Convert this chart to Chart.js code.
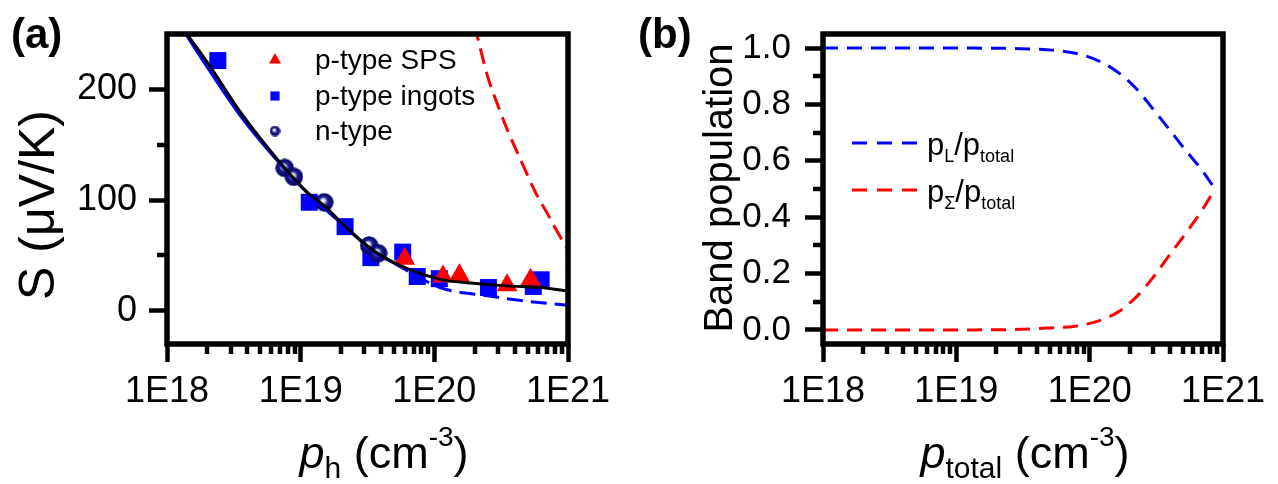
<!DOCTYPE html>
<html>
<head>
<meta charset="utf-8">
<script src="https://cdn.jsdelivr.net/npm/chart.js@4.4.0/dist/chart.umd.min.js"></script>
<style>
  html, body { margin: 0; padding: 0; background: #fff; }
  #wrap { position: relative; width: 1278px; height: 484px; }
  canvas { position: absolute; top: 0; }
  #chartA { left: 0; }
  #chartB { left: 640px; }
</style>
</head>
<body>
<div id="wrap">
  <canvas id="chartA" width="640" height="484"></canvas>
  <canvas id="chartB" width="638" height="484"></canvas>
</div>
<script>
const FONT = '"Liberation Sans", Arial, sans-serif';
const BLUE = '#0000ff';
const RED = '#ff0000';

// (a) Seebeck coefficient vs Hall carrier density
const spsP = [6.0e19, 1.16e20, 1.54e20, 3.5e20, 5.25e20];
const spsS = [47, 31, 32, 23, 28];
const ingotP = [2.4e18, 1.16e19, 2.15e19, 3.35e19, 5.8e19, 7.45e19, 1.09e20, 2.54e20, 5.5e20, 6.3e20];
const ingotS = [226, 98, 76, 48, 53, 31, 29, 21, 22, 28];
const nTypeP = [7.6e18, 8.9e18, 1.5e19, 3.25e19, 3.8e19];
const nTypeS = [129, 121, 98, 59, 52];

// two-band model (solid black)
const twoBandP = [1.35e18, 2.04e18, 3.61e18, 7.59e18, 1.13e19, 1.51e19, 2.15e19, 3.55e19, 6.28e19, 1.11e20, 1.97e20, 3.48e20, 6.16e20, 1e21];
const twoBandS = [253, 223, 178, 129, 106.6, 94.6, 76.3, 54, 38, 28.4, 24.9, 22.5, 21, 18];
// light band only (blue)
const lightP = [1.33e18, 2e18, 3.6e18, 7.6e18, 1.13e19, 2.15e19, 3.55e19, 5e19, 7e19, 1.1e20, 2.5e20, 4.6e20, 1e21];
const lightS = [253, 220, 175, 128, 106, 76, 53, 43, 33, 21, 13.5, 9, 5];
// heavy band only (red dashed)
const heavyP = [2.0e20, 2.5e20, 3e20, 3.5e20, 4e20, 5e20, 5.5e20, 6e20, 7e20, 8e20, 1e21];
const heavyS = [258, 212, 185, 164, 148, 122, 111, 102, 88, 75, 55];

// (b) band population vs total carrier density
const totalP = [1e18, 1e19, 3e19, 4.76e19, 7.8e19, 1.2e20, 1.64e20, 2.25e20, 2.95e20, 3.89e20, 5.25e20, 7.0e20, 8.7e20];
const fracL = [1, 1, 0.998, 0.994, 0.982, 0.952, 0.913, 0.855, 0.787, 0.716, 0.637, 0.565, 0.5];
const fracSigma = [0, 0, 0.002, 0.007, 0.013, 0.034, 0.064, 0.118, 0.183, 0.26, 0.343, 0.426, 0.5];

const xy = (xs, ys) => xs.map((x, i) => ({ x, y: ys[i] }));
const isDecade = v => Math.abs(Math.log10(v) - Math.round(Math.log10(v))) < 1e-6;

const MAJOR_TICK = 18;
const MINOR_TICK = 10;

function logTicks(from, to) {
  const out = [];
  for (let e = from; e < to; e++) {
    for (let m = 1; m < 10; m++) out.push({ value: m * Math.pow(10, e) });
  }
  out.push({ value: Math.pow(10, to) });
  return out;
}

// shaded navy ball used for the n-type points
function makeSphere(d) {
  const c = document.createElement('canvas');
  c.width = c.height = d;
  const g = c.getContext('2d');
  const r = d / 2;
  const grad = g.createRadialGradient(r * 0.85, r * 0.8, r * 0.04, r, r, r);
  grad.addColorStop(0, '#ffffff');
  grad.addColorStop(0.2, '#c4c4ea');
  grad.addColorStop(0.45, '#1c1c8e');
  grad.addColorStop(1, '#00005c');
  g.fillStyle = grad;
  g.beginPath();
  g.arc(r, r, r - 0.3, 0, Math.PI * 2);
  g.fill();
  return c;
}

const sphereBig = makeSphere(19);
const sphereSmall = makeSphere(11);

// text made of runs (italic, sub/superscripts)
function measureRuns(ctx, runs) {
  let w = 0;
  runs.forEach(r => {
    ctx.font = (r.style || '') + ' ' + r.size + 'px ' + FONT;
    w += ctx.measureText(r.t).width;
  });
  return w;
}
function drawRuns(ctx, runs, x, y, align) {
  const w = measureRuns(ctx, runs);
  let cx = align === 'center' ? x - w / 2 : x;
  ctx.textBaseline = 'alphabetic';
  ctx.textAlign = 'left';
  ctx.fillStyle = '#000';
  runs.forEach(r => {
    ctx.font = (r.style || '') + ' ' + r.size + 'px ' + FONT;
    ctx.fillText(r.t, cx, y + (r.dy || 0));
    cx += ctx.measureText(r.t).width;
  });
}

// thick box frame plus short minor ticks
const framePlugin = {
  id: 'frame',
  afterDraw(chart, args, opts) {
    const { ctx, chartArea: a } = chart;
    const xs = chart.scales.x, ys = chart.scales.y;
    ctx.save();
    ctx.strokeStyle = '#000';
    ctx.lineWidth = 4.5;
    xs.ticks.forEach(t => {
      if (isDecade(t.value)) return;
      const px = Math.round(xs.getPixelForValue(t.value));
      ctx.beginPath(); ctx.moveTo(px, a.bottom); ctx.lineTo(px, a.bottom + MINOR_TICK); ctx.stroke();
    });
    ys.ticks.forEach(t => {
      if (opts.isMajorY(t.value)) return;
      const py = Math.round(ys.getPixelForValue(t.value));
      ctx.beginPath(); ctx.moveTo(a.left, py); ctx.lineTo(a.left - MINOR_TICK, py); ctx.stroke();
    });
    ctx.lineWidth = 5.5;
    ctx.strokeRect(a.left, a.top, a.right - a.left, a.bottom - a.top);
    ctx.restore();
  }
};

// titles, panel letters and in-plot legends
const labelPlugin = {
  id: 'labels',
  afterDraw(chart, args, opts) {
    const ctx = chart.ctx;
    ctx.save();
    opts.draw(ctx, chart);
    ctx.restore();
  }
};

function xScale() {
  return {
    type: 'logarithmic', min: 1e18, max: 1e21, position: 'bottom',
    afterBuildTicks: s => { s.ticks = logTicks(18, 21); },
    afterFit: s => { s.height = 140; s.paddingLeft = 0; s.paddingRight = 0; },
    border: { display: false },
    grid: {
      drawOnChartArea: false, tickLength: MAJOR_TICK, tickWidth: 4.5,
      tickColor: c => (c.tick && isDecade(c.tick.value)) ? '#000' : 'rgba(0,0,0,0)'
    },
    ticks: {
      autoSkip: false, maxRotation: 0, minRotation: 0, padding: 8, color: '#000',
      font: { family: FONT, size: 36 },
      callback: v => isDecade(v) ? '1E' + Math.round(Math.log10(v)) : ''
    }
  };
}

function yScale(width, min, max, ticks, isMajor, fmt, size, pad) {
  return {
    type: 'linear', min, max, position: 'left',
    afterBuildTicks: s => { s.ticks = ticks.map(v => ({ value: v })); },
    afterFit: s => { s.width = width; s.paddingTop = 0; s.paddingBottom = 0; },
    border: { display: false },
    grid: {
      drawOnChartArea: false, tickLength: MAJOR_TICK, tickWidth: 4.5,
      tickColor: c => (c.tick && isMajor(c.tick.value)) ? '#000' : 'rgba(0,0,0,0)'
    },
    ticks: {
      autoSkip: false, padding: pad, color: '#000',
      font: { family: FONT, size },
      callback: v => isMajor(v) ? fmt(v) : ''
    }
  };
}

const isMajorS = v => v % 100 === 0;
const isMajorFrac = v => Math.round(v * 10) % 2 === 0;

Chart.defaults.animation = false;
Chart.defaults.events = [];

new Chart(document.getElementById('chartA'), {
  type: 'scatter',
  data: {
    datasets: [
      {
        type: 'line', data: xy(twoBandP, twoBandS), borderColor: '#000', borderWidth: 3,
        pointRadius: 0, cubicInterpolationMode: 'monotone', order: 0
      },
      {
        type: 'line', data: xy(lightP, lightS), borderColor: BLUE, borderWidth: 3,
        pointRadius: 0, cubicInterpolationMode: 'monotone', order: 1,
        segment: { borderDash: c => c.p0.parsed.x >= 5e19 ? [16, 8] : undefined }
      },
      {
        type: 'line', data: xy(heavyP, heavyS), borderColor: RED, borderWidth: 3,
        borderDash: [16, 8], pointRadius: 0, cubicInterpolationMode: 'monotone', order: 1
      },
      {
        label: 'p-type SPS', data: xy(spsP, spsS), pointStyle: 'triangle', pointRadius: 12,
        backgroundColor: RED, borderWidth: 0, order: 2
      },
      {
        label: 'n-type', data: xy(nTypeP, nTypeS), pointStyle: sphereBig, order: 3
      },
      {
        label: 'p-type ingots', data: xy(ingotP, ingotS), pointStyle: 'rect', pointRadius: 12,
        backgroundColor: BLUE, borderWidth: 0, order: 4
      }
    ]
  },
  options: {
    responsive: false,
    layout: { padding: { left: 0, right: 72, top: 34, bottom: 0 } },
    scales: {
      x: xScale(),
      y: yScale(167, -30, 250, [0, 50, 100, 150, 200], isMajorS, v => String(v), 36, 12)
    },
    plugins: {
      legend: { display: false },
      tooltip: { enabled: false },
      frame: { isMajorY: isMajorS },
      labels: {
        draw(ctx, chart) {
          ctx.fillStyle = '#000';
          ctx.font = 'bold 42px ' + FONT;
          ctx.textAlign = 'left';
          ctx.textBaseline = 'alphabetic';
          ctx.fillText('(a)', 11, 48);

          ctx.save();
          ctx.translate(54, 205);
          ctx.rotate(-Math.PI / 2);
          drawRuns(ctx, [{ t: 'S (\u03bcV/K)', size: 50 }], 0, 0, 'center');
          ctx.restore();

          drawRuns(ctx, [
            { t: 'p', size: 45, style: 'italic' },
            { t: 'h', size: 30, dy: 10 },
            { t: ' (cm', size: 45 },
            { t: '-3', size: 28, dy: -22 },
            { t: ')', size: 45 }
          ], 384, 468, 'center');

          // legend
          const rows = [
            { y: 60, text: 'p-type SPS', opts: { pointStyle: 'triangle', radius: 7, borderWidth: 0 }, color: RED },
            { y: 96, text: 'p-type ingots', opts: { pointStyle: 'rect', radius: 6.5, borderWidth: 0 }, color: BLUE },
            { y: 131, text: 'n-type', opts: { pointStyle: sphereSmall, radius: 5, borderWidth: 0 }, color: '#000' }
          ];
          rows.forEach(r => {
            ctx.fillStyle = r.color;
            Chart.helpers.drawPoint(ctx, r.opts, 275, r.y);
            ctx.fillStyle = '#000';
            ctx.font = '28px ' + FONT;
            ctx.textBaseline = 'middle';
            ctx.fillText(r.text, 315, r.y + 1);
          });
        }
      }
    }
  },
  plugins: [framePlugin, labelPlugin]
});

new Chart(document.getElementById('chartB'), {
  type: 'line',
  data: {
    datasets: [
      {
        data: xy(totalP, fracL), borderColor: BLUE, borderWidth: 3, borderDash: [15, 9],
        pointRadius: 0, cubicInterpolationMode: 'monotone'
      },
      {
        data: xy(totalP, fracSigma), borderColor: RED, borderWidth: 3, borderDash: [15, 9],
        pointRadius: 0, cubicInterpolationMode: 'monotone'
      }
    ]
  },
  options: {
    responsive: false,
    layout: { padding: { left: 0, right: 55, top: 34, bottom: 0 } },
    scales: {
      x: xScale(),
      y: yScale(183, -0.05, 1.05, [0, 0.1, 0.2, 0.3, 0.4, 0.5, 0.6, 0.7, 0.8, 0.9, 1.0], isMajorFrac, v => v.toFixed(1), 35, 14)
    },
    plugins: {
      legend: { display: false },
      tooltip: { enabled: false },
      frame: { isMajorY: isMajorFrac },
      labels: {
        draw(ctx, chart) {
          ctx.fillStyle = '#000';
          ctx.font = 'bold 42px ' + FONT;
          ctx.textAlign = 'left';
          ctx.textBaseline = 'alphabetic';
          ctx.fillText('(b)', -2, 48);

          ctx.save();
          ctx.translate(92, 188);
          ctx.rotate(-Math.PI / 2);
          drawRuns(ctx, [{ t: 'Band population', size: 40 }], 0, 0, 'center');
          ctx.restore();

          drawRuns(ctx, [
            { t: 'p', size: 45, style: 'italic' },
            { t: 'total', size: 30, dy: 10 },
            { t: ' (cm', size: 45 },
            { t: '-3', size: 28, dy: -22 },
            { t: ')', size: 45 }
          ], 385, 468, 'center');

          // legend
          const entries = [
            { y: 143, color: BLUE, sub: 'L' },
            { y: 190, color: RED, sub: '\u03a3' }
          ];
          entries.forEach(e => {
            ctx.save();
            ctx.strokeStyle = e.color;
            ctx.lineWidth = 3;
            ctx.setLineDash([15, 10]);
            ctx.beginPath(); ctx.moveTo(212, e.y); ctx.lineTo(278, e.y); ctx.stroke();
            ctx.restore();
            drawRuns(ctx, [
              { t: 'p', size: 31 },
              { t: e.sub, size: 18, dy: 7 },
              { t: '/p', size: 31 },
              { t: 'total', size: 18, dy: 7 }
            ], 287, e.y + 12, 'left');
          });
        }
      }
    }
  },
  plugins: [framePlugin, labelPlugin]
});
</script>
</body>
</html>
